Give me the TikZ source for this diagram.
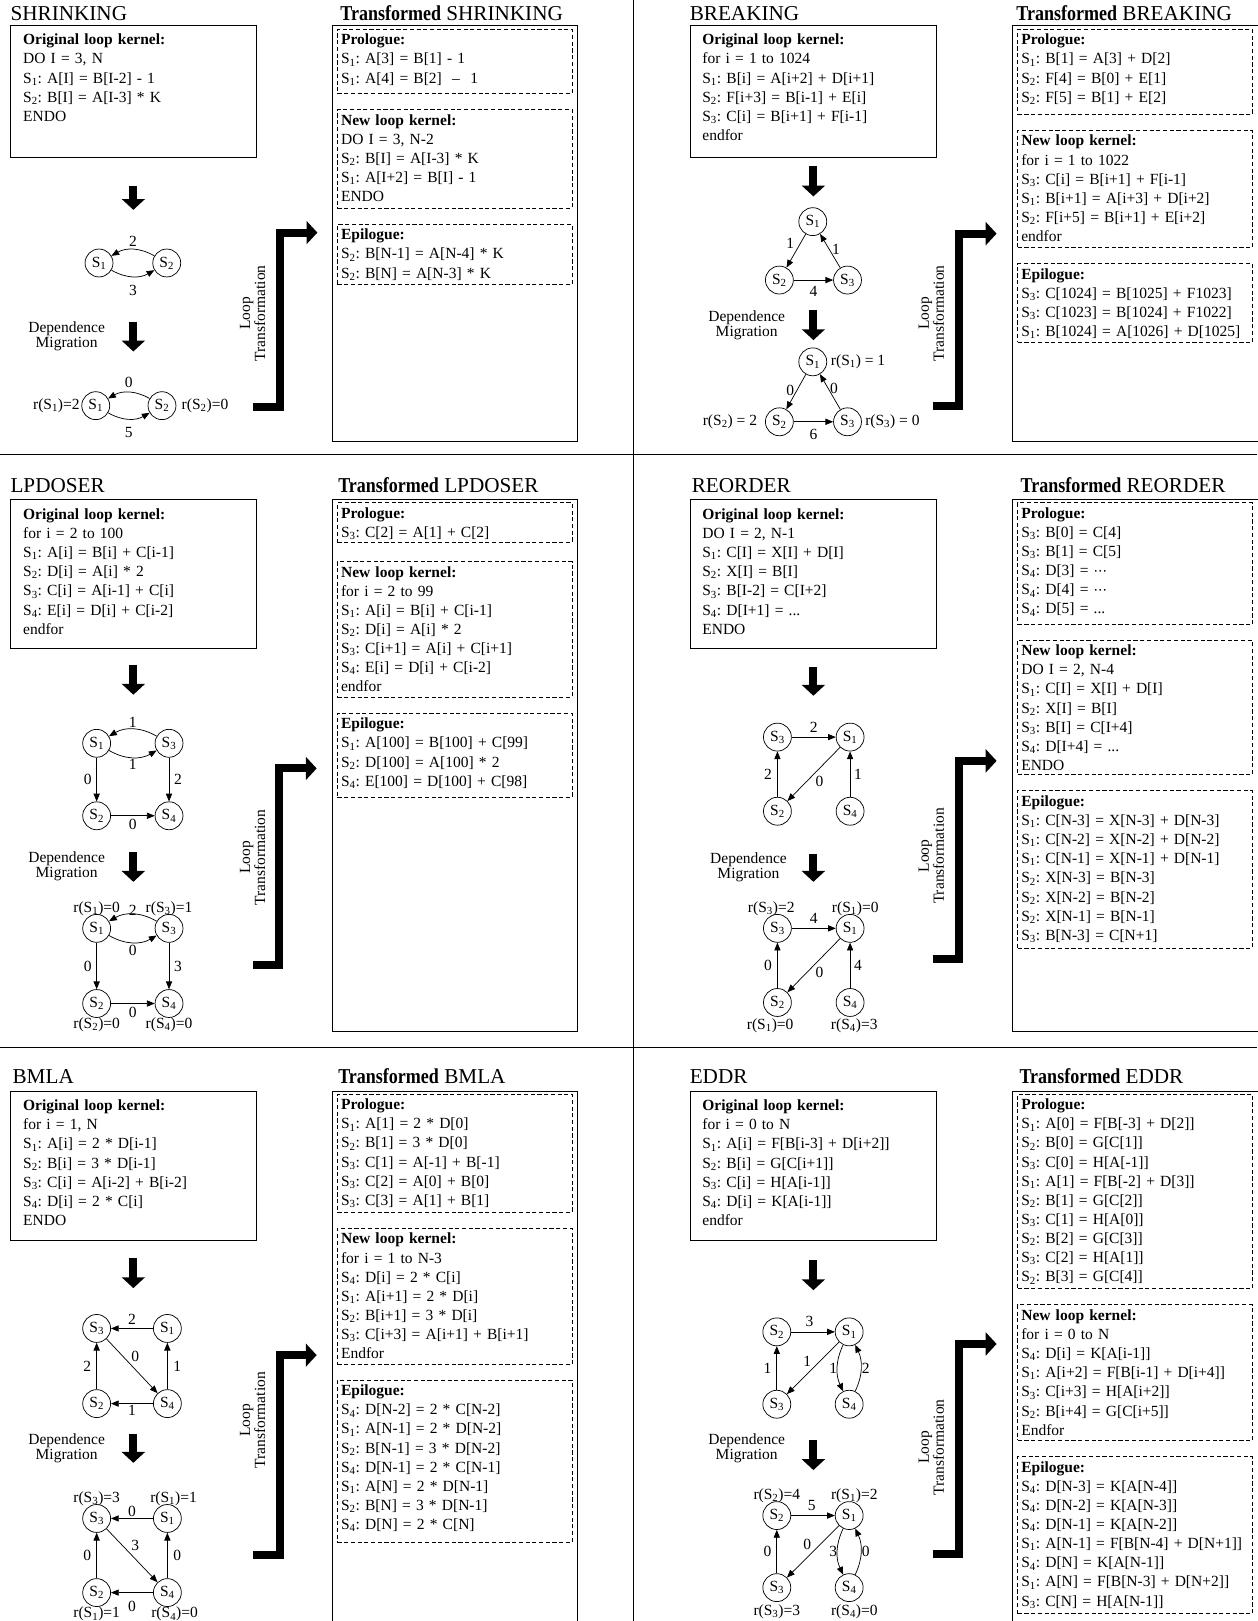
\documentclass[tikz,border=0pt]{standalone}
\usepackage{fontspec}
\setmainfont{Liberation Serif}
\newfontfamily\dvsans{DejaVu Sans}
\usetikzlibrary{positioning,arrows.meta}

\newcommand{\Sx}[1]{S\textsubscript{#1}}
\newcommand{\trword}{\scalebox{0.85}[1]{\textbf{Transformed}}}
\newcommand{\mdots}{{\dvsans\fontsize{13}{15}\selectfont ⋯}}
\frenchspacing

\begin{document}
\begin{tikzpicture}[x=1pt, y=1pt,
    font=\fontsize{15}{18.5}\selectfont, inner sep=1.5pt,
    ttl/.style={anchor=base west, inner sep=0pt, font=\fontsize{20.5}{24}\selectfont},
    orig/.style={draw, line width=0.8pt, anchor=north west, text width=214pt,
                 align=left, inner xsep=12pt, inner ysep=2pt,
                 text height=17pt, text depth=#1},
    trbox/.style={draw, line width=0.8pt, anchor=north west, inner sep=0pt},
    stage/.style={draw, line width=0.8pt, dash pattern=on 4pt off 2.5pt,
                  text width=220pt, align=left, inner xsep=3.5pt, inner ysep=2pt,
                  text height=13pt, text depth=#1},
    stmt/.style={circle, draw, line width=0.7pt, minimum size=27pt, inner sep=0pt},
    dep/.style={-{Triangle[length=7.5pt,width=6pt]}, line width=0.7pt},
    bigarrow/.style={-{Triangle[length=10.5pt,width=22pt]}, line width=7.7pt},
    mig/.style={align=center, font=\fontsize{15}{14.5}\selectfont},
    ltext/.style={mig, rotate=90}
]
    \useasboundingbox (0,0) rectangle (1216,-1568);
    \draw[line width=0.8pt] (613,0) -- (613,-1568);
    \draw[line width=0.8pt] (0,-440) -- (1216,-440);
    \draw[line width=0.8pt] (0,-1013) -- (1216,-1013);

    \node[ttl] (shkname) at (10,-20) {SHRINKING};
    \node[orig=107pt] (shkorig) at (10,-24) {\textbf{Original loop kernel:}\\
        DO I = 3, N\\
        \Sx1: A[I] = B[I-2] - 1\\
        \Sx2: B[I] = A[I-3] * K\\
        ENDO};
    \coordinate (shkd1) at (129,-180);
    \coordinate (shkd2) at (129,-203);
    \draw[bigarrow] (shkd1) -- (shkd2);
    \node[stmt] (shka1) at (95.8,-254.4) {\Sx1};
    \node[stmt, right=37.8pt of shka1] (shka2) {\Sx2};
    \draw[dep] (shka2) to[bend right=30] node[above=1.5pt] {2} (shka1);
    \draw[dep] (shka1) to[bend right=30] node[below=6.5pt] {3} (shka2);
    \node[mig] (shkmig) at (64.5,-325.7) {Dependence\\Migration};
    \coordinate (shkd3) at (129,-311);
    \coordinate (shkd4) at (129,-340);
    \draw[bigarrow] (shkd3) -- (shkd4);
    \node[stmt] (shkb1) at (92.6,-392.4) {\Sx1};
    \node[stmt, right=36.4pt of shkb1] (shkb2) {\Sx2};
    \draw[dep] (shkb2) to[bend right=30] node[above=2.5pt] {0} (shkb1);
    \draw[dep] (shkb1) to[bend right=30] node[below=6pt] {5} (shkb2);
    \node[left=0pt of shkb1] (shkr1) {r(\Sx1)=2};
    \node[right=3.5pt of shkb2] (shkr2) {r(\Sx2)=0};
    \node[ltext] (shklt) at (244.3,-303) {Loop\\Transformation};
    \coordinate (shkl1) at (245,-394);
    \coordinate (shkl2) at (271,-225);
    \coordinate (shkl3) at (307,-225);
    \draw[bigarrow] (shkl1) -| (shkl2) -- (shkl3);
    \node[ttl] (shktname) at (329,-20) {\trword{} SHRINKING};
    \node[trbox, minimum width=237pt, minimum height=403pt] (shktr) at (321,-24) {};
    \node[stage=45pt, below right=4pt and 5pt of shktr.north west] (shkpro) {\textbf{Prologue:}\\
        \Sx1: A[3] = B[1] - 1\\
        \Sx1: A[4] = B[2]~~–~~1};
    \node[stage=78pt, below=15pt of shkpro] (shkker) {\textbf{New loop kernel:}\\
        DO I = 3, N-2\\
        \Sx2: B[I] = A[I-3] * K\\
        \Sx1: A[I+2] = B[I] - 1\\
        ENDO};
    \node[stage=41pt, below=15pt of shkker] (shkepi) {\textbf{Epilogue:}\\
        \Sx2: B[N-1] = A[N-4] * K\\
        \Sx2: B[N] = A[N-3] * K};

    \node[ttl] (brkname) at (667,-20) {BREAKING};
    \node[orig=107pt] (brkorig) at (667,-24) {\textbf{Original loop kernel:}\\
        for i = 1 to 1024\\
        \Sx1: B[i] = A[i+2] + D[i+1]\\
        \Sx2: F[i+3] = B[i-1] + E[i]\\
        \Sx3: C[i] = B[i+1] + F[i-1]\\
        endfor};
    \coordinate (brkd1) at (786.8,-161);
    \coordinate (brkd2) at (786.8,-190);
    \draw[bigarrow] (brkd1) -- (brkd2);
    \node[stmt] (brka1) at (786.2,-214.4) {\Sx1};
    \node[stmt] (brka2) at (753.9,-270.9) {\Sx2};
    \node[stmt, right=38.2pt of brka2] (brka3) {\Sx3};
    \draw[dep] (brka1) -- node[above left=0pt] {1} (brka2);
    \draw[dep] (brka3) -- node[pos=0.55, right=1pt] {1} (brka1);
    \draw[dep] (brka2) -- node[below=4.5pt] {4} (brka3);
    \node[mig] (brkmig) at (722.3,-314.4) {Dependence\\Migration};
    \coordinate (brkd3) at (786.8,-300);
    \coordinate (brkd4) at (786.8,-329);
    \draw[bigarrow] (brkd3) -- (brkd4);
    \node[stmt] (brkb1) at (786.2,-350) {\Sx1};
    \node[stmt] (brkb2) at (753.9,-408) {\Sx2};
    \node[stmt, right=38.2pt of brkb2] (brkb3) {\Sx3};
    \draw[dep] (brkb1) -- node[pos=0.45, left=1pt] {0} (brkb2);
    \draw[dep] (brkb3) -- node[pos=0.6, right=0pt] {0} (brkb1);
    \draw[dep] (brkb2) -- node[below=5pt] {6} (brkb3);
    \node[right=2pt of brkb1] (brkr1) {r(\Sx1) = 1};
    \node[left=6pt of brkb2] (brkr2) {r(\Sx2) = 2};
    \node[right=1.6pt of brkb3] (brkr3) {r(\Sx3) = 0};
    \node[ltext] (brklt) at (901,-303) {Loop\\Transformation};
    \coordinate (brkl1) at (902,-393);
    \coordinate (brkl2) at (928,-226);
    \coordinate (brkl3) at (964,-226);
    \draw[bigarrow] (brkl1) -| (brkl2) -- (brkl3);
    \node[ttl] (brktname) at (983,-20) {\trword{} BREAKING};
    \node[trbox, minimum width=245pt, minimum height=403pt] (brktr) at (979,-24) {};
    \node[stage=65pt, below right=4pt and 5pt of brktr.north west] (brkpro) {\textbf{Prologue:}\\
        \Sx1: B[1] = A[3] + D[2]\\
        \Sx2: F[4] = B[0] + E[1]\\
        \Sx2: F[5] = B[1] + E[2]};
    \node[stage=96pt, below=15pt of brkpro] (brkker) {\textbf{New loop kernel:}\\
        for i = 1 to 1022\\
        \Sx3: C[i] = B[i+1] + F[i-1]\\
        \Sx1: B[i+1] = A[i+3] + D[i+2]\\
        \Sx2: F[i+5] = B[i+1] + E[i+2]\\
        endfor};
    \node[stage=59pt, below=15pt of brkker] (brkepi) {\textbf{Epilogue:}\\
        \Sx3: C[1024] = B[1025] + F1023]\\
        \Sx3: C[1023] = B[1024] + F1022]\\
        \Sx1: B[1024] = A[1026] + D[1025]};

    \node[ttl] (lpdname) at (10,-476) {LPDOSER};
    \node[orig=123pt] (lpdorig) at (10,-483) {\textbf{Original loop kernel:}\\
        for i = 2 to 100\\
        \Sx1: A[i] = B[i] + C[i-1]\\
        \Sx2: D[i] = A[i] * 2\\
        \Sx3: C[i] = A[i-1] + C[i]\\
        \Sx4: E[i] = D[i] + C[i-2]\\
        endfor};
    \coordinate (lpdd1) at (129,-643);
    \coordinate (lpdd2) at (129,-672);
    \draw[bigarrow] (lpdd1) -- (lpdd2);
    \node[stmt] (lpda1) at (93.5,-719) {\Sx1};
    \node[stmt, right=42.3pt of lpda1] (lpda3) {\Sx3};
    \node[stmt, below=42.4pt of lpda1] (lpda2) {\Sx2};
    \node[stmt, right=42.3pt of lpda2] (lpda4) {\Sx4};
    \draw[dep] (lpda3) to[bend right=30] node[above=-0.5pt] {1} (lpda1);
    \draw[dep] (lpda1) to[bend right=30] node[below=-0.5pt] {1} (lpda3);
    \draw[dep] (lpda1) -- node[left=3pt] {0} (lpda2);
    \draw[dep] (lpda3) -- node[right=3pt] {2} (lpda4);
    \draw[dep] (lpda2) -- node[below=1.5pt] {0} (lpda4);
    \node[mig] (lpdmig) at (64.5,-838) {Dependence\\Migration};
    \coordinate (lpdd3) at (129,-824);
    \coordinate (lpdd4) at (129,-853);
    \draw[bigarrow] (lpdd3) -- (lpdd4);
    \node[stmt] (lpdb1) at (93.5,-898) {\Sx1};
    \node[stmt, right=42.3pt of lpdb1] (lpdb3) {\Sx3};
    \node[stmt, below=45pt of lpdb1] (lpdb2) {\Sx2};
    \node[stmt, right=42.3pt of lpdb2] (lpdb4) {\Sx4};
    \draw[dep] (lpdb3) to[bend right=30] node[above=-3pt] {2} (lpdb1);
    \draw[dep] (lpdb1) to[bend right=30] node[below=1pt] {0} (lpdb3);
    \draw[dep] (lpdb1) -- node[left=3pt] {0} (lpdb2);
    \draw[dep] (lpdb3) -- node[right=3pt] {3} (lpdb4);
    \draw[dep] (lpdb2) -- node[below=2pt] {0} (lpdb4);
    \node[above=-3pt of lpdb1] (lpdr1) {r(\Sx1)=0};
    \node[above=-3pt of lpdb3] (lpdr3) {r(\Sx3)=1};
    \node[below=-2pt of lpdb2] (lpdr2) {r(\Sx2)=0};
    \node[below=-2pt of lpdb4] (lpdr4) {r(\Sx4)=0};
    \node[ltext] (lpdlt) at (244.3,-829.5) {Loop\\Transformation};
    \coordinate (lpdl1) at (245,-933.5);
    \coordinate (lpdl2) at (270.2,-743.3);
    \coordinate (lpdl3) at (306.3,-743.3);
    \draw[bigarrow] (lpdl1) -| (lpdl2) -- (lpdl3);
    \node[ttl] (lpdtname) at (327,-476) {\trword{} LPDOSER};
    \node[trbox, minimum width=237pt, minimum height=514pt] (lpdtr) at (321,-483) {};
    \node[stage=21pt, below right=3pt and 5pt of lpdtr.north west] (lpdpro) {\textbf{Prologue:}\\
        \Sx3: C[2] = A[1] + C[2]};
    \node[stage=114pt, below=18pt of lpdpro] (lpdker) {\textbf{New loop kernel:}\\
        for i = 2 to 99\\
        \Sx1: A[i] = B[i] + C[i-1]\\
        \Sx2: D[i] = A[i] * 2\\
        \Sx3: C[i+1] = A[i] + C[i+1]\\
        \Sx4: E[i] = D[i] + C[i-2]\\
        endfor};
    \node[stage=64pt, below=15pt of lpdker] (lpdepi) {\textbf{Epilogue:}\\
        \Sx1: A[100] = B[100] + C[99]\\
        \Sx2: D[100] = A[100] * 2\\
        \Sx4: E[100] = D[100] + C[98]};

    \node[ttl] (reoname) at (669,-476) {REORDER};
    \node[orig=123pt] (reoorig) at (667,-483) {\textbf{Original loop kernel:}\\
        DO I = 2, N-1\\
        \Sx1: C[I] = X[I] + D[I]\\
        \Sx2: X[I] = B[I]\\
        \Sx3: B[I-2] = C[I+2]\\
        \Sx4: D[I+1] = ...\\
        ENDO};
    \coordinate (reod1) at (786.8,-645);
    \coordinate (reod2) at (786.8,-673);
    \draw[bigarrow] (reod1) -- (reod2);
    \node[stmt] (reoa3) at (752,-713) {\Sx3};
    \node[stmt, right=42.6pt of reoa3] (reoa1) {\Sx1};
    \node[stmt, below=44pt of reoa3] (reoa2) {\Sx2};
    \node[stmt, right=42.6pt of reoa2] (reoa4) {\Sx4};
    \draw[dep] (reoa3) -- node[above=2.5pt] {2} (reoa1);
    \draw[dep] (reoa2) -- node[left=3.5pt] {2} (reoa3);
    \draw[dep] (reoa1) -- node[below right=0pt] {0} (reoa2);
    \draw[dep] (reoa4) -- node[right=2pt] {1} (reoa1);
    \node[mig] (reomig) at (724,-838.5) {Dependence\\Migration};
    \coordinate (reod3) at (786.8,-826);
    \coordinate (reod4) at (786.8,-853);
    \draw[bigarrow] (reod3) -- (reod4);
    \node[stmt] (reob3) at (752,-898) {\Sx3};
    \node[stmt, right=42.6pt of reob3] (reob1) {\Sx1};
    \node[stmt, below=44pt of reob3] (reob2) {\Sx2};
    \node[stmt, right=42.6pt of reob2] (reob4) {\Sx4};
    \draw[dep] (reob3) -- node[above=2.5pt] {4} (reob1);
    \draw[dep] (reob2) -- node[left=3.5pt] {0} (reob3);
    \draw[dep] (reob1) -- node[below right=0pt] {0} (reob2);
    \draw[dep] (reob4) -- node[right=2pt] {4} (reob1);
    \node[above=-3pt of reob3, xshift=-6pt] (reor3) {r(\Sx3)=2};
    \node[above=-3pt of reob1, xshift=5pt] (reor1) {r(\Sx1)=0};
    \node[below=0pt of reob2, xshift=-7pt] (reor2) {r(\Sx1)=0};
    \node[below=0pt of reob4, xshift=4pt] (reor4) {r(\Sx4)=3};
    \node[ltext] (reolt) at (901,-828) {Loop\\Transformation};
    \coordinate (reol1) at (902,-928);
    \coordinate (reol2) at (928,-736);
    \coordinate (reol3) at (964,-736);
    \draw[bigarrow] (reol1) -| (reol2) -- (reol3);
    \node[ttl] (reotname) at (987,-476) {\trword{} REORDER};
    \node[trbox, minimum width=245pt, minimum height=514pt] (reotr) at (979,-483) {};
    \node[stage=101pt, below right=3pt and 5pt of reotr.north west] (reopro) {\textbf{Prologue:}\\
        \Sx3: B[0] = C[4]\\
        \Sx3: B[1] = C[5]\\
        \Sx4: D[3] = \mdots\\
        \Sx4: D[4] = \mdots\\
        \Sx4: D[5] = ...};
    \node[stage=113pt, below=14pt of reopro] (reoker) {\textbf{New loop kernel:}\\
        DO I = 2, N-4\\
        \Sx1: C[I] = X[I] + D[I]\\
        \Sx2: X[I] = B[I]\\
        \Sx3: B[I] = C[I+4]\\
        \Sx4: D[I+4] = ...\\
        ENDO};
    \node[stage=135pt, below=15pt of reoker] (reoepi) {\textbf{Epilogue:}\\
        \Sx1: C[N-3] = X[N-3] + D[N-3]\\
        \Sx1: C[N-2] = X[N-2] + D[N-2]\\
        \Sx1: C[N-1] = X[N-1] + D[N-1]\\
        \Sx2: X[N-3] = B[N-3]\\
        \Sx2: X[N-2] = B[N-2]\\
        \Sx2: X[N-1] = B[N-1]\\
        \Sx3: B[N-3] = C[N+1]};

    \node[ttl] (bmlname) at (12,-1048) {BMLA};
    \node[orig=123pt] (bmlorig) at (10,-1055) {\textbf{Original loop kernel:}\\
        for i = 1, N\\
        \Sx1: A[i] = 2 * D[i-1]\\
        \Sx2: B[i] = 3 * D[i-1]\\
        \Sx3: C[i] = A[i-2] + B[i-2]\\
        \Sx4: D[i] = 2 * C[i]\\
        ENDO};
    \coordinate (bmld1) at (129,-1217);
    \coordinate (bmld2) at (129,-1246);
    \draw[bigarrow] (bmld1) -- (bmld2);
    \node[stmt] (bmla3) at (93.5,-1285) {\Sx3};
    \node[stmt, right=40.7pt of bmla3] (bmla1) {\Sx1};
    \node[stmt, below=45pt of bmla3] (bmla2) {\Sx2};
    \node[stmt, right=40.7pt of bmla2] (bmla4) {\Sx4};
    \draw[dep] (bmla1) -- node[above=1.5pt] {2} (bmla3);
    \draw[dep] (bmla2) -- node[left=3.5pt] {2} (bmla3);
    \draw[dep] (bmla3) -- node[pos=0.45, above right=0pt] {0} (bmla4);
    \draw[dep] (bmla4) -- node[right=4pt] {1} (bmla1);
    \draw[dep] (bmla4) -- node[below=0pt] {1} (bmla2);
    \node[mig] (bmlmig) at (64.5,-1401) {Dependence\\Migration};
    \coordinate (bmld3) at (129,-1387);
    \coordinate (bmld4) at (129,-1415);
    \draw[bigarrow] (bmld3) -- (bmld4);
    \node[stmt] (bmlb3) at (93.5,-1468.8) {\Sx3};
    \node[stmt, right=40.7pt of bmlb3] (bmlb1) {\Sx1};
    \node[stmt, below=44pt of bmlb3] (bmlb2) {\Sx2};
    \node[stmt, right=40.7pt of bmlb2] (bmlb4) {\Sx4};
    \draw[dep] (bmlb1) -- node[above=0pt] {0} (bmlb3);
    \draw[dep] (bmlb2) -- node[left=3.5pt] {0} (bmlb3);
    \draw[dep] (bmlb3) -- node[pos=0.45, above right=0pt] {3} (bmlb4);
    \draw[dep] (bmlb4) -- node[right=4pt] {0} (bmlb1);
    \draw[dep] (bmlb4) -- node[below=6pt] {0} (bmlb2);
    \node[above=-3.5pt of bmlb3] (bmlr3) {r(\Sx3)=3};
    \node[above=-3.5pt of bmlb1, xshift=6pt] (bmlr1) {r(\Sx1)=1};
    \node[below=-1.5pt of bmlb2] (bmlr2) {r(\Sx1)=1};
    \node[below=-1.5pt of bmlb4, xshift=7pt] (bmlr4) {r(\Sx4)=0};
    \node[ltext] (bmllt) at (244.3,-1373.7) {Loop\\Transformation};
    \coordinate (bmll1) at (245,-1504.3);
    \coordinate (bmll2) at (270.9,-1310.8);
    \coordinate (bmll3) at (306.3,-1310.8);
    \draw[bigarrow] (bmll1) -| (bmll2) -- (bmll3);
    \node[ttl] (bmltname) at (327,-1048) {\trword{} BMLA};
    \node[trbox, minimum width=237pt, minimum height=530pt] (bmltr) at (321,-1055) {};
    \node[stage=97pt, below right=3pt and 5pt of bmltr.north west] (bmlpro) {\textbf{Prologue:}\\
        \Sx1: A[1] = 2 * D[0]\\
        \Sx2: B[1] = 3 * D[0]\\
        \Sx3: C[1] = A[-1] + B[-1]\\
        \Sx3: C[2] = A[0] + B[0]\\
        \Sx3: C[3] = A[1] + B[1]};
    \node[stage=115pt, below=15pt of bmlpro] (bmlker) {\textbf{New loop kernel:}\\
        for i = 1 to N-3\\
        \Sx4: D[i] = 2 * C[i]\\
        \Sx1: A[i+1] = 2 * D[i]\\
        \Sx2: B[i+1] = 3 * D[i]\\
        \Sx3: C[i+3] = A[i+1] + B[i+1]\\
        Endfor};
    \node[stage=140pt, below=14pt of bmlker] (bmlepi) {\textbf{Epilogue:}\\
        \Sx4: D[N-2] = 2 * C[N-2]\\
        \Sx1: A[N-1] = 2 * D[N-2]\\
        \Sx2: B[N-1] = 3 * D[N-2]\\
        \Sx4: D[N-1] = 2 * C[N-1]\\
        \Sx1: A[N] = 2 * D[N-1]\\
        \Sx2: B[N] = 3 * D[N-1]\\
        \Sx4: D[N] = 2 * C[N]};

    \node[ttl] (eddname) at (667,-1048) {EDDR};
    \node[orig=123pt] (eddorig) at (667,-1055) {\textbf{Original loop kernel:}\\
        for i = 0 to N\\
        \Sx1: A[i] = F[B[i-3] + D[i+2]]\\
        \Sx2: B[i] = G[C[i+1]]\\
        \Sx3: C[i] = H[A[i-1]]\\
        \Sx4: D[i] = K[A[i-1]]\\
        endfor};
    \coordinate (eddd1) at (786.8,-1219);
    \coordinate (eddd2) at (786.8,-1248);
    \draw[bigarrow] (eddd1) -- (eddd2);
    \node[stmt] (edda2) at (751.4,-1288.3) {\Sx2};
    \node[stmt, right=42.3pt of edda2] (edda1) {\Sx1};
    \node[stmt, below=42.3pt of edda2] (edda3) {\Sx3};
    \node[stmt, right=42.3pt of edda3] (edda4) {\Sx4};
    \draw[dep] (edda2) -- node[pos=0.42, above=3pt] {3} (edda1);
    \draw[dep] (edda3) -- node[left=3.5pt] {1} (edda2);
    \draw[dep] (edda1) -- node[above left=0pt] {1} (edda3);
    \draw[dep] (edda1) to[bend right=25] node[left=-1.5pt] {1} (edda4);
    \draw[dep] (edda4) to[bend right=25] node[right=-1pt] {2} (edda1);
    \node[mig] (eddmig) at (722.3,-1401) {Dependence\\Migration};
    \coordinate (eddd3) at (786.8,-1393);
    \coordinate (eddd4) at (786.8,-1422);
    \draw[bigarrow] (eddd3) -- (eddd4);
    \node[stmt] (eddb2) at (751.4,-1466) {\Sx2};
    \node[stmt, right=42.3pt of eddb2] (eddb1) {\Sx1};
    \node[stmt, below=42pt of eddb2] (eddb3) {\Sx3};
    \node[stmt, right=42.3pt of eddb3] (eddb4) {\Sx4};
    \draw[dep] (eddb2) -- node[pos=0.47, above=2.5pt] {5} (eddb1);
    \draw[dep] (eddb3) -- node[left=3.5pt] {0} (eddb2);
    \draw[dep] (eddb1) -- node[above left=0pt] {0} (eddb3);
    \draw[dep] (eddb1) to[bend right=25] node[left=-1.5pt] {3} (eddb4);
    \draw[dep] (eddb4) to[bend right=25] node[right=-1pt] {0} (eddb1);
    \node[above=-3pt of eddb2] (eddr2) {r(\Sx2)=4};
    \node[above=-3pt of eddb1, xshift=5pt] (eddr1) {r(\Sx1)=2};
    \node[below=1pt of eddb3] (eddr3) {r(\Sx3)=3};
    \node[below=1pt of eddb4, xshift=5pt] (eddr4) {r(\Sx4)=0};
    \node[ltext] (eddlt) at (901,-1400) {Loop\\Transformation};
    \coordinate (eddl1) at (902,-1503);
    \coordinate (eddl2) at (928,-1300);
    \coordinate (eddl3) at (964,-1300);
    \draw[bigarrow] (eddl1) -| (eddl2) -- (eddl3);
    \node[ttl] (eddtname) at (986,-1048) {\trword{} EDDR};
    \node[trbox, minimum width=245pt, minimum height=530pt] (eddtr) at (979,-1055) {};
    \node[stage=171pt, below right=3pt and 5pt of eddtr.north west] (eddpro) {\textbf{Prologue:}\\
        \Sx1: A[0] = F[B[-3] + D[2]]\\
        \Sx2: B[0] = G[C[1]]\\
        \Sx3: C[0] = H[A[-1]]\\
        \Sx1: A[1] = F[B[-2] + D[3]]\\
        \Sx2: B[1] = G[C[2]]\\
        \Sx3: C[1] = H[A[0]]\\
        \Sx2: B[2] = G[C[3]]\\
        \Sx3: C[2] = H[A[1]]\\
        \Sx2: B[3] = G[C[4]]};
    \node[stage=114pt, below=15pt of eddpro] (eddker) {\textbf{New loop kernel:}\\
        for i = 0 to N\\
        \Sx4: D[i] = K[A[i-1]]\\
        \Sx1: A[i+2] = F[B[i-1] + D[i+4]]\\
        \Sx3: C[i+3] = H[A[i+2]]\\
        \Sx2: B[i+4] = G[C[i+5]]\\
        Endfor};
    \node[stage=135pt, below=15pt of eddker] (eddepi) {\textbf{Epilogue:}\\
        \Sx4: D[N-3] = K[A[N-4]]\\
        \Sx4: D[N-2] = K[A[N-3]]\\
        \Sx4: D[N-1] = K[A[N-2]]\\
        \Sx1: A[N-1] = F[B[N-4] + D[N+1]]\\
        \Sx4: D[N] = K[A[N-1]]\\
        \Sx1: A[N] = F[B[N-3] + D[N+2]]\\
        \Sx3: C[N] = H[A[N-1]]};
\end{tikzpicture}
\end{document}
